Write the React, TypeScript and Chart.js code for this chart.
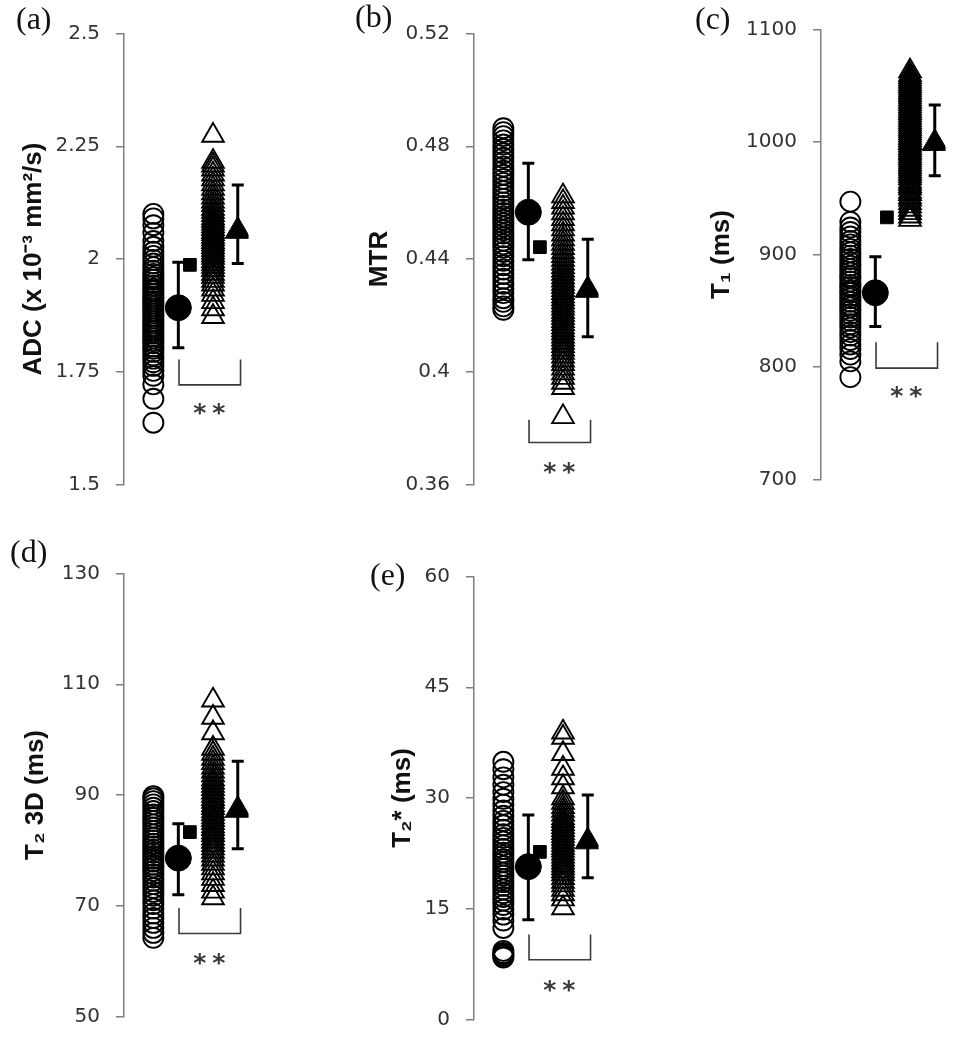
import { useEffect, useRef } from 'react';
import { Chart, registerables } from 'chart.js';

Chart.register(...registerables);

// ---------------- DATA ----------------
// (a) ADC (x 10^-3 mm^2/s)
const ADC_CONTROLS = [1.637, 1.69, 1.722, 1.741, 1.752, 1.763, 1.771, 1.779, 1.786, 1.794, 1.801, 1.806, 1.813, 1.818, 1.824, 1.829, 1.835, 1.84, 1.846, 1.851, 1.857, 1.862, 1.868, 1.873, 1.879, 1.884, 1.89, 1.895, 1.901, 1.906, 1.912, 1.917, 1.923, 1.929, 1.934, 1.941, 1.947, 1.954, 1.96, 1.967, 1.974, 1.982, 1.99, 1.998, 2.007, 2.016, 2.027, 2.04, 2.058, 2.075, 2.09, 2.1];
const ADC_PATIENTS = [1.872, 1.889, 1.905, 1.921, 1.933, 1.944, 1.952, 1.961, 1.968, 1.976, 1.983, 1.99, 1.996, 2.003, 2.009, 2.015, 2.021, 2.027, 2.033, 2.038, 2.044, 2.05, 2.056, 2.061, 2.067, 2.073, 2.079, 2.085, 2.091, 2.098, 2.105, 2.112, 2.12, 2.128, 2.137, 2.146, 2.156, 2.166, 2.177, 2.188, 2.199, 2.208, 2.216, 2.274];
const ADC_CONTROL_STATS = [1.892, 1.803, 1.993]; // mean, lower, upper
const ADC_PATIENT_STATS = [2.062, 1.99, 2.164];
const ADC_REFERENCE = [1.987];
const ADC_BRACKET = [1.777, 1.721];
const ADC_STARS = [1.668];
const ADC_TICKS = [1.5, 1.75, 2, 2.25, 2.5];
const ADC_TICK_LABELS = ['1.5', '1.75', '2', '2.25', '2.5'];

// (b) MTR
const MTR_CONTROLS = [0.422, 0.4232, 0.4248, 0.4261, 0.4279, 0.4295, 0.4312, 0.433, 0.4347, 0.4363, 0.4378, 0.4394, 0.441, 0.4425, 0.444, 0.4452, 0.4465, 0.4477, 0.449, 0.4502, 0.4515, 0.4527, 0.4539, 0.4551, 0.4563, 0.4576, 0.4588, 0.4601, 0.4614, 0.4628, 0.4641, 0.4655, 0.467, 0.4684, 0.4699, 0.4713, 0.4728, 0.4744, 0.4759, 0.4775, 0.479, 0.4806, 0.4821, 0.4836, 0.485, 0.4864];
const MTR_PATIENTS = [0.384, 0.3943, 0.3962, 0.3979, 0.3995, 0.4012, 0.4028, 0.4041, 0.4055, 0.4068, 0.408, 0.4092, 0.4104, 0.4115, 0.4126, 0.4137, 0.4148, 0.4159, 0.417, 0.4181, 0.4192, 0.4203, 0.4214, 0.4225, 0.4236, 0.4247, 0.4258, 0.4269, 0.428, 0.4291, 0.4302, 0.4313, 0.4324, 0.4336, 0.4348, 0.436, 0.4372, 0.4385, 0.4398, 0.4411, 0.4425, 0.444, 0.4455, 0.4471, 0.4488, 0.4506, 0.4524, 0.4543, 0.4563, 0.4583, 0.4603, 0.4623];
const MTR_CONTROL_STATS = [0.4566, 0.4397, 0.474];
const MTR_PATIENT_STATS = [0.429, 0.4124, 0.447];
const MTR_REFERENCE = [0.4442];
const MTR_BRACKET = [0.383, 0.3749];
const MTR_STARS = [0.366];
const MTR_TICKS = [0.36, 0.4, 0.44, 0.48, 0.52];
const MTR_TICK_LABELS = ['0.36', '0.4', '0.44', '0.48', '0.52'];

// (c) T1 (ms)
const T1_CONTROLS = [791, 805, 811, 816, 820, 824, 828, 831, 835, 838, 841, 844, 847, 850, 853, 855, 858, 861, 863, 866, 868, 871, 873, 876, 879, 881, 884, 887, 890, 893, 896, 899, 902, 905, 909, 912, 916, 920, 924, 929, 947];
const T1_PATIENTS = [931, 934, 937, 940, 943, 946, 949, 951, 954, 956, 959, 961, 963, 965, 968, 970, 972, 974, 976, 978, 980, 982, 984, 986, 988, 990, 991, 993, 995, 997, 999, 1000, 1002, 1004, 1006, 1008, 1010, 1012, 1014, 1016, 1018, 1020, 1022, 1024, 1026, 1028, 1030, 1032, 1034, 1036, 1038, 1040, 1042, 1044, 1046, 1048, 1050, 1052, 1054, 1056, 1058, 1060, 1063];
const T1_CONTROL_STATS = [866, 836, 898];
const T1_PATIENT_STATS = [999, 970, 1033];
const T1_REFERENCE = [933];
const T1_BRACKET = [822, 799];
const T1_STARS = [778];
const T1_TICKS = [700, 800, 900, 1000, 1100];
const T1_TICK_LABELS = ['700', '800', '900', '1000', '1100'];

// (d) T2 3D (ms)
const T2_CONTROLS = [64.2, 65.1, 66.0, 66.9, 67.8, 68.6, 69.5, 70.3, 71.0, 71.8, 72.5, 73.2, 73.9, 74.5, 75.1, 75.7, 76.3, 76.9, 77.4, 78.0, 78.5, 79.0, 79.6, 80.1, 80.7, 81.2, 81.8, 82.3, 82.9, 83.5, 84.1, 84.7, 85.3, 85.9, 86.5, 87.1, 87.7, 88.3, 88.9, 89.4, 89.8];
const T2_PATIENTS = [71.4, 72.6, 73.8, 74.9, 75.9, 76.8, 77.6, 78.4, 79.1, 79.8, 80.4, 81.0, 81.6, 82.2, 82.8, 83.3, 83.9, 84.4, 85.0, 85.5, 86.0, 86.6, 87.1, 87.7, 88.2, 88.8, 89.3, 89.9, 90.5, 91.1, 91.7, 92.3, 92.9, 93.6, 94.3, 95.0, 95.8, 96.6, 97.5, 98.4, 101.2, 104.0, 107.1];
const T2_CONTROL_STATS = [78.6, 72.0, 84.8];
const T2_PATIENT_STATS = [87.3, 80.3, 96.1];
const T2_REFERENCE = [83.3];
const T2_BRACKET = [69.6, 65.0];
const T2_STARS = [60.3];
const T2_TICKS = [50, 70, 90, 110, 130];
const T2_TICK_LABELS = ['50', '70', '90', '110', '130'];

// (e) T2* (ms)
const T2S_CONTROLS = [8.4, 8.6, 8.8, 9.0, 9.3, 12.4, 13.4, 14.2, 14.9, 15.5, 16.1, 16.6, 17.1, 17.6, 18.1, 18.6, 19.0, 19.5, 19.9, 20.4, 20.8, 21.3, 21.7, 22.2, 22.6, 23.1, 23.6, 24.1, 24.6, 25.1, 25.7, 26.3, 26.9, 27.6, 28.3, 29.1, 29.9, 30.8, 31.8, 32.8, 33.9, 34.9];
const T2S_PATIENTS = [15.1, 16.3, 17.0, 17.6, 18.2, 18.7, 19.2, 19.7, 20.1, 20.5, 20.9, 21.3, 21.7, 22.1, 22.5, 22.9, 23.3, 23.7, 24.1, 24.5, 24.9, 25.3, 25.7, 26.1, 26.5, 26.9, 27.3, 27.8, 28.3, 28.8, 29.4, 30.0, 31.5, 32.7, 34.0, 36.0, 38.2, 38.9];
const T2S_CONTROL_STATS = [20.7, 13.5, 27.7];
const T2S_PATIENT_STATS = [24.1, 19.2, 30.4];
const T2S_REFERENCE = [22.7];
const T2S_BRACKET = [11.5, 8.1];
const T2S_STARS = [4.6];
const T2S_TICKS = [0, 15, 30, 45, 60];
const T2S_TICK_LABELS = ['0', '15', '30', '45', '60'];

// ---------------- LAYOUT ----------------
const UNIT = 26; // px per x unit
const AREA_W = 140; // chart-area width in px
const PAD = 15;
const X = {
  controls: 1.27,
  controlMean: 2.35,
  reference: 2.85,
  patients: 3.85,
  patientMean: 4.92,
  bracketL: 2.38,
  bracketR: 5.04,
  stars: 3.69,
};

type PanelCfg = {
  letter: string;
  letterLeft: number;
  letterTop: number;
  left: number;
  axisX: number;
  axisTop: number;
  axisBottom: number;
  titlePad: number;
  title: string;
  controls: number[];
  patients: number[];
  cStats: number[];
  pStats: number[];
  ref: number[];
  bracket: number[];
  stars: number[];
  ticks: number[];
  tickLabels: string[];
};

const PANELS: PanelCfg[] = [
  { letter: '(a)', letterLeft: 16, letterTop: 2, left: 4, axisX: 124, axisTop: 33, axisBottom: 485, titlePad: 14, title: 'ADC (x 10⁻³ mm²/s)', controls: ADC_CONTROLS, patients: ADC_PATIENTS, cStats: ADC_CONTROL_STATS, pStats: ADC_PATIENT_STATS, ref: ADC_REFERENCE, bracket: ADC_BRACKET, stars: ADC_STARS, ticks: ADC_TICKS, tickLabels: ADC_TICK_LABELS },
  { letter: '(b)', letterLeft: 355, letterTop: 0, left: 350, axisX: 474, axisTop: 33, axisBottom: 485, titlePad: 14, title: 'MTR', controls: MTR_CONTROLS, patients: MTR_PATIENTS, cStats: MTR_CONTROL_STATS, pStats: MTR_PATIENT_STATS, ref: MTR_REFERENCE, bracket: MTR_BRACKET, stars: MTR_STARS, ticks: MTR_TICKS, tickLabels: MTR_TICK_LABELS },
  { letter: '(c)', letterLeft: 695, letterTop: 2, left: 695, axisX: 821, axisTop: 29, axisBottom: 480, titlePad: 11, title: 'T₁ (ms)', controls: T1_CONTROLS, patients: T1_PATIENTS, cStats: T1_CONTROL_STATS, pStats: T1_PATIENT_STATS, ref: T1_REFERENCE, bracket: T1_BRACKET, stars: T1_STARS, ticks: T1_TICKS, tickLabels: T1_TICK_LABELS },
  { letter: '(d)', letterLeft: 10, letterTop: 535, left: 4, axisX: 124, axisTop: 573, axisBottom: 1017, titlePad: 16, title: 'T₂ 3D (ms)', controls: T2_CONTROLS, patients: T2_PATIENTS, cStats: T2_CONTROL_STATS, pStats: T2_PATIENT_STATS, ref: T2_REFERENCE, bracket: T2_BRACKET, stars: T2_STARS, ticks: T2_TICKS, tickLabels: T2_TICK_LABELS },
  { letter: '(e)', letterLeft: 370, letterTop: 558, left: 375, axisX: 474, axisTop: 576, axisBottom: 1020, titlePad: 12, title: 'T₂* (ms)', controls: T2S_CONTROLS, patients: T2S_PATIENTS, cStats: T2S_CONTROL_STATS, pStats: T2S_PATIENT_STATS, ref: T2S_REFERENCE, bracket: T2S_BRACKET, stars: T2S_STARS, ticks: T2S_TICKS, tickLabels: T2S_TICK_LABELS },
];

const starsPlugin = {
  id: 'stars',
  afterDatasetsDraw(chart: any, _args: any, opts: any) {
    const { ctx, scales } = chart;
    const x = scales.x.getPixelForValue(opts.x);
    const y = scales.y.getPixelForValue(opts.y);
    ctx.save();
    ctx.font = 'bold 25px "DejaVu Sans", sans-serif';
    ctx.fillStyle = '#3a3a3a';
    ctx.textAlign = 'center';
    ctx.textBaseline = 'alphabetic';
    const m = ctx.measureText('*');
    const base = y + (m.actualBoundingBoxAscent - m.actualBoundingBoxDescent) / 2;
    ctx.fillText('*', x - 9.5, base);
    ctx.fillText('*', x + 9.5, base);
    ctx.restore();
  },
};

function Panel({ cfg }: { cfg: PanelCfg }) {
  const ref = useRef<HTMLCanvasElement>(null);
  const axisW = cfg.axisX - cfg.left;
  const width = axisW + AREA_W;
  const height = cfg.axisBottom - cfg.axisTop + 2 * PAD;

  useEffect(() => {
    const black = '#000000';
    const chart = new Chart(ref.current as HTMLCanvasElement, {
      type: 'scatter',
      data: {
        datasets: [
          {
            data: [{ x: X.controlMean, y: cfg.cStats[0] }],
            pointStyle: 'circle',
            pointRadius: 13,
            pointBackgroundColor: black,
            pointBorderColor: black,
            pointBorderWidth: 1,
            order: 0,
          },
          {
            data: [{ x: X.patientMean, y: cfg.pStats[0] }],
            pointStyle: 'triangle',
            pointRadius: 14.5,
            pointBackgroundColor: black,
            pointBorderColor: black,
            pointBorderWidth: 1,
            order: 0,
          },
          {
            data: [{ x: X.reference, y: cfg.ref[0] }],
            pointStyle: 'rect',
            pointRadius: 9,
            pointBackgroundColor: black,
            pointBorderColor: black,
            pointBorderWidth: 1,
            order: 0,
          },
          {
            data: [
              { x: X.controlMean, y: cfg.cStats[1] },
              { x: X.controlMean, y: cfg.cStats[2] },
            ],
            showLine: true,
            borderColor: black,
            borderWidth: 3,
            pointStyle: 'line',
            pointRadius: 6,
            pointBorderWidth: 3,
            pointBorderColor: black,
            order: 1,
          },
          {
            data: [
              { x: X.patientMean, y: cfg.pStats[1] },
              { x: X.patientMean, y: cfg.pStats[2] },
            ],
            showLine: true,
            borderColor: black,
            borderWidth: 3,
            pointStyle: 'line',
            pointRadius: 6,
            pointBorderWidth: 3,
            pointBorderColor: black,
            order: 1,
          },
          {
            data: cfg.controls.map((v) => ({ x: X.controls, y: v })),
            pointStyle: 'circle',
            pointRadius: 10,
            pointBackgroundColor: 'rgba(0,0,0,0)',
            pointBorderColor: black,
            pointBorderWidth: 1.9,
            order: 2,
          },
          {
            data: cfg.patients.map((v) => ({ x: X.patients, y: v })),
            pointStyle: 'triangle',
            pointRadius: 12.5,
            pointBackgroundColor: 'rgba(0,0,0,0)',
            pointBorderColor: black,
            pointBorderWidth: 1.9,
            order: 2,
          },
          {
            data: [
              { x: X.bracketL, y: cfg.bracket[0] },
              { x: X.bracketL, y: cfg.bracket[1] },
              { x: X.bracketR, y: cfg.bracket[1] },
              { x: X.bracketR, y: cfg.bracket[0] },
            ],
            showLine: true,
            borderColor: '#3a3a3a',
            borderWidth: 1.6,
            pointRadius: 0,
            order: 3,
          },
        ],
      },
      options: {
        animation: false,
        responsive: false,
        events: [],
        layout: { padding: { top: PAD, bottom: PAD, left: 0, right: 0 } },
        plugins: {
          legend: { display: false },
          tooltip: { enabled: false },
          stars: { x: X.stars, y: cfg.stars[0] },
        } as any,
        scales: {
          x: { type: 'linear', display: false, min: 0, max: AREA_W / UNIT },
          y: {
            type: 'linear',
            position: 'left',
            min: cfg.ticks[0],
            max: cfg.ticks[cfg.ticks.length - 1],
            afterBuildTicks: (s: any) => {
              s.ticks = cfg.ticks.map((v) => ({ value: v }));
            },
            afterFit: (s: any) => {
              s.width = axisW;
              s.paddingTop = 0;
              s.paddingBottom = 0;
            },
            ticks: {
              callback: (_v: any, i: number) => cfg.tickLabels[i],
              font: { family: '"DejaVu Sans", Verdana, sans-serif', size: 20 },
              color: '#333333',
              padding: 16,
              autoSkip: false,
            },
            grid: {
              display: true,
              drawOnChartArea: false,
              drawTicks: true,
              tickLength: 8,
              color: '#7f7f7f',
              lineWidth: 1.5,
            },
            border: { display: true, color: '#7f7f7f', width: 1.5 },
            title: {
              display: true,
              text: cfg.title,
              font: { family: '"Liberation Sans", Arial, sans-serif', size: 26, weight: 'bold' },
              color: '#111111',
              padding: { top: cfg.titlePad, bottom: 0 },
            },
          },
        },
      } as any,
      plugins: [starsPlugin],
    });
    return () => chart.destroy();
  }, []);

  return (
    <>
      <canvas
        ref={ref}
        width={width}
        height={height}
        style={{ position: 'absolute', left: cfg.left, top: cfg.axisTop - PAD, width, height }}
      />
      <div
        style={{
          position: 'absolute',
          left: cfg.letterLeft,
          top: cfg.letterTop,
          fontFamily: '"Liberation Serif", "Times New Roman", serif',
          fontSize: 32,
          lineHeight: 1,
          color: '#111',
          whiteSpace: 'nowrap',
        }}
      >
        {cfg.letter}
      </div>
    </>
  );
}

export default function App() {
  return (
    <div style={{ position: 'absolute', left: 0, top: 0, width: 969, height: 1050, background: '#fff', overflow: 'hidden' }}>
      {PANELS.map((p) => (
        <Panel key={p.letter} cfg={p} />
      ))}
    </div>
  );
}
